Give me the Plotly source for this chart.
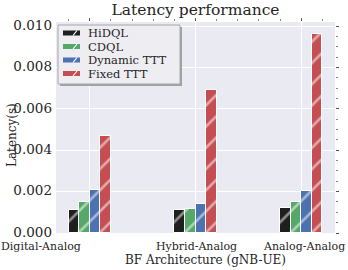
import plotly.graph_objects as go

categories = ["Digital-Analog", "Hybrid-Analog", "Analog-Analog"]
series_names = ["HiDQL", "CDQL", "Dynamic TTT", "Fixed TTT"]
hidql = [0.00110, 0.00112, 0.00122]
cdql = [0.00152, 0.00117, 0.00151]
dynamic_ttt = [0.00207, 0.00142, 0.00203]
fixed_ttt = [0.00468, 0.00690, 0.00962]
y_ticks = [0.000, 0.002, 0.004, 0.006, 0.008, 0.010]

colors = ["#1f1f1f", "#55A868", "#4C72B0", "#C44E52"]
series = [hidql, cdql, dynamic_ttt, fixed_ttt]
x_pos = list(range(len(categories)))
bar_w = 0.1
offsets = [-1.5 * bar_w, -0.5 * bar_w, 0.5 * bar_w, 1.5 * bar_w]

FONT = "DejaVu Serif"
TXT = "#262626"
W, H = 348, 270
ML, MR, MT, MB = 56, 13, 22, 37
PW, PH = W - ML - MR, H - MT - MB


def px(x):  # pixel -> paper x
    return (x - ML) / PW


def py(y):  # pixel -> paper y
    return (H - MB - y) / PH


fig = go.Figure()
for name, vals, col, off in zip(series_names, series, colors, offsets):
    fig.add_trace(go.Bar(
        x=[p + off for p in x_pos], y=vals, width=bar_w, name=name, showlegend=False,
        marker=dict(color=col, line=dict(color="white", width=1),
                    pattern=dict(shape="/", fgcolor="white", bgcolor=col,
                                 size=15, solidity=0.18, fillmode="overlay")),
    ))

xr = [-0.32, 2.32]
yr = [0, 0.0102]
fig.update_layout(
    width=W, height=H,
    margin=dict(l=ML, r=MR, t=MT, b=MB, autoexpand=False),
    plot_bgcolor="#EAEAF2", paper_bgcolor="white",
    barmode="overlay", bargap=0,
    font=dict(family=FONT, size=11, color=TXT),
    title=dict(text="Latency performance", x=0.5, xref="paper", xanchor="center",
               y=1 - 10 / H, yanchor="middle", yref="container",
               font=dict(family=FONT, size=15.5, color=TXT)),
    showlegend=False,
    xaxis=dict(range=xr, tickvals=x_pos, ticktext=["", "", ""], showgrid=True,
               gridcolor="white", gridwidth=1, zeroline=False, ticks="", showline=False),
    yaxis=dict(range=yr, tickvals=y_ticks, tickformat=".3f", showgrid=True,
               gridcolor="white", gridwidth=1, zeroline=False, ticks="", showline=False,
               tickfont=dict(family=FONT, size=13.5, color=TXT), ticklabelstandoff=3,
               ticklabelshift=-1),
    xaxis2=dict(range=xr, overlaying="x", side="top", anchor="y", showgrid=False, zeroline=False,
                tickvals=x_pos, showticklabels=False, ticks="outside", ticklen=3, tickcolor="#555555",
                minor=dict(dtick=0.2, tick0=0, ticks="outside", ticklen=2, tickcolor="#888888")),
    yaxis2=dict(range=yr, overlaying="y", side="right", anchor="x", showgrid=False, zeroline=False,
                tickvals=y_ticks, showticklabels=False, ticks="outside", ticklen=3, tickcolor="#555555",
                minor=dict(dtick=0.0005, tick0=0, ticks="outside", ticklen=2, tickcolor="#888888")),
)
fig.add_trace(go.Scatter(x=[xr[0]], y=[0], xaxis="x2", yaxis="y2", mode="markers",
                         marker=dict(opacity=0), showlegend=False, hoverinfo="skip"))

# category labels
label_px = [41, 196, 304]
for lx, txt in zip(label_px, categories):
    fig.add_annotation(x=px(lx), y=py(246.5), xref="paper", yref="paper", text=txt, showarrow=False,
                       xanchor="center", yanchor="middle", borderpad=0,
                       font=dict(family=FONT, size=11, color=TXT))
# axis titles
fig.add_annotation(x=px(205), y=py(260), xref="paper", yref="paper", text="BF Architecture (gNB-UE)",
                   showarrow=False, xanchor="center", yanchor="middle", borderpad=0,
                   font=dict(family=FONT, size=12, color=TXT))
fig.add_annotation(x=px(12), y=py(135), xref="paper", yref="paper", text="Latency(s)", textangle=-90,
                   showarrow=False, xanchor="center", yanchor="middle",
                   font=dict(family=FONT, size=12, color=TXT))

# legend (manual, matplotlib-like box with shadow)
fig.add_shape(type="rect", xref="paper", yref="paper", x0=px(60), x1=px(182), y0=py(86), y1=py(27),
              fillcolor="#A0A0A6", line=dict(width=0), layer="above")
fig.add_shape(type="rect", xref="paper", yref="paper", x0=px(58), x1=px(180), y0=py(84), y1=py(25),
              fillcolor="#EDEDF2", line=dict(color="#A8A8A8", width=1), layer="above")
row_y = [33, 46.5, 60, 73.5]
for ry, name, col in zip(row_y, series_names, colors):
    fig.add_shape(type="rect", xref="paper", yref="paper", x0=px(63), x1=px(80),
                  y0=py(ry + 2.5), y1=py(ry - 2.5), fillcolor=col, line=dict(width=0), layer="above")
    fig.add_shape(type="line", xref="paper", yref="paper", x0=px(73), x1=px(77),
                  y0=py(ry + 2.5), y1=py(ry - 2.5), line=dict(color="white", width=1.2), layer="above")
    fig.add_annotation(x=px(87), y=py(ry), xref="paper", yref="paper", text=name, showarrow=False,
                       xanchor="left", yanchor="middle", borderpad=0,
                       font=dict(family=FONT, size=11.5, color=TXT))

fig.write_html("out.html", config={"displayModeBar": False},
               post_script="document.body.style.margin='0';document.body.style.padding='0';")
